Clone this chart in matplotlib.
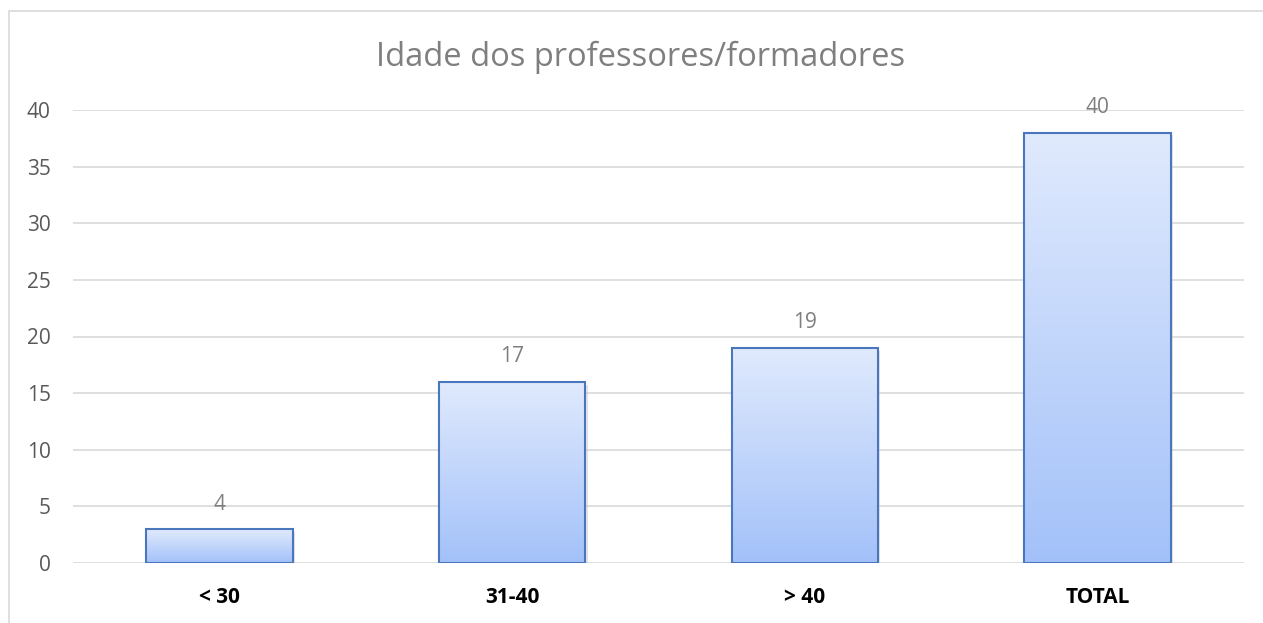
import matplotlib
matplotlib.use('Agg')
import matplotlib.pyplot as plt
import numpy as np
from matplotlib.patches import Rectangle
from matplotlib.colors import LinearSegmentedColormap

categories = ['< 30', '31-40', '> 40', 'TOTAL']
bar_heights = [3, 16, 19, 38]
label_values = [4, 17, 19, 40]
y_ticks = [0, 5, 10, 15, 20, 25, 30, 35, 40]

plt.rcParams['font.family'] = ['Open Sans', 'DejaVu Sans']

W, H = 1263, 623
fig = plt.figure(figsize=(W / 100, H / 100), dpi=100)
fig.patch.set_facecolor('white')

# outer chart frame (right/bottom edges run off the image)
fig.patches.append(Rectangle((9 / W, -0.1), 1.2, 1 - 11 / H + 0.1, transform=fig.transFigure,
                             fill=False, edgecolor='#d9d9d9', linewidth=1.2))

ax = fig.add_axes([73 / W, (H - 563) / H, (1244 - 73) / W, (563 - 110) / H])
ax.set_xlim(-0.5, 3.5)
ax.set_ylim(0, 40)
for s in ax.spines.values():
    s.set_visible(False)
ax.set_yticks(y_ticks)
ax.yaxis.grid(True, color='#d9d9d9', linewidth=1.2)
ax.set_axisbelow(True)
ax.tick_params(axis='y', length=0, pad=16, labelsize=15, labelcolor='#595959')
ax.tick_params(axis='x', length=0, pad=17)

x = np.arange(len(categories))
ax.set_xticks(x)
ax.set_xticklabels(categories, fontsize=15, fontweight='bold', color='black')

cmap = LinearSegmentedColormap.from_list('bar', ['#a3c1f9', '#e0eafd'])
grad = np.linspace(0, 1, 256).reshape(-1, 1)
bw = 0.5
for xi, h, lab in zip(x, bar_heights, label_values):
    # soft shadow
    ax.add_patch(Rectangle((xi - bw / 2 + 0.008, -0.25), bw, h, facecolor='#c8c8c8',
                           edgecolor='none', alpha=0.5, zorder=2))
    rect = Rectangle((xi - bw / 2, 0), bw, h, facecolor='none', edgecolor='#4a76bd',
                     linewidth=1.5, zorder=4)
    ax.add_patch(rect)
    im = ax.imshow(grad, extent=[xi - bw / 2, xi + bw / 2, 0, h], origin='lower',
                   aspect='auto', cmap=cmap, zorder=3)
    im.set_clip_path(rect)
    ax.annotate(str(lab), (xi, h), xytext=(0, 25), textcoords='offset pixels',
                ha='center', va='center', fontsize=15, color='#7f7f7f', zorder=5,
                annotation_clip=False)

ax.set_xlim(-0.5, 3.5)
ax.set_ylim(0, 40)

fig.text(641 / W, 1 - 57 / H, 'Idade dos professores/formadores', ha='center', va='center',
         fontsize=23.5, color='#7f7f7f')

fig.savefig('out.png', dpi=100)
